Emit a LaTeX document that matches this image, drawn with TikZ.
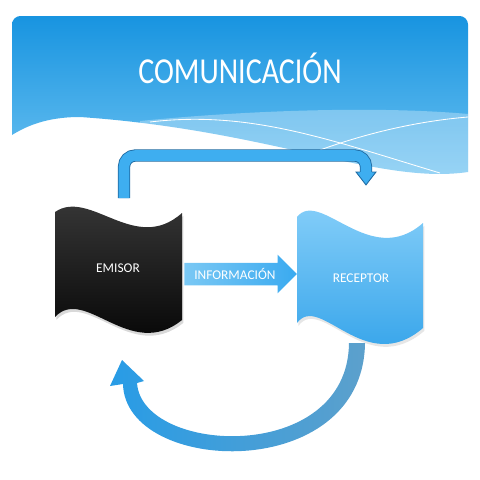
\documentclass[tikz,border=0pt]{standalone}
\usepackage{fontspec}
\setmainfont{Carlito}
\newfontfamily\titlefont[FakeStretch=0.82]{Carlito}
\usetikzlibrary{shapes.arrows,shadows}

\definecolor{bannertop}{RGB}{24,148,224}
\definecolor{bannerbot}{RGB}{112,196,242}
\definecolor{arrowblue}{RGB}{62,174,240}
\definecolor{arrowline}{RGB}{28,104,160}
\definecolor{recepttop}{RGB}{140,210,250}
\definecolor{receptbot}{RGB}{42,158,232}
\definecolor{emisortop}{RGB}{58,58,58}
\definecolor{infoleft}{RGB}{122,200,244}
\definecolor{inforight}{RGB}{58,170,240}
\definecolor{curvedark}{RGB}{92,160,204}
\definecolor{curvelight}{RGB}{40,156,230}

\begin{document}
\begin{tikzpicture}[x=0.025cm, y=-0.025cm]
    \useasboundingbox (0,0) rectangle (480,480);

    % banner
    \shade[top color=bannertop, bottom color=bannerbot] (12,135) [rounded corners=6pt] -- (12,16) -- (468,16) [sharp corners] -- (468,172) .. controls (380,185) and (270,130) .. (80,117) .. controls (45,117) and (25,127) .. (12,135) -- cycle;
    \fill[white, opacity=0.3] (140,121) .. controls (250,110) and (380,106) .. (468,114) -- (468,185) -- (140,185) -- cycle;
    \draw[white, line width=0.6pt] (150,122) .. controls (250,110) and (330,140) .. (440,173);
    \draw[white, line width=0.6pt] (320,150) .. controls (370,132) and (420,121) .. (468,117);
    \node (title) [text=white, font=\titlefont\fontsize{26}{30}\selectfont] at (240,68) {COMUNICACIÓN};

    % feedback from receptor back to emisor
    \coordinate (back) at (357,343);
    \coordinate (backend) at (122,360);
    \shade[left color=curvelight, middle color=curvelight, right color=curvedark] ([xshift=5.7pt]back) .. controls (363,485) and (125,475) .. (123,384) -- (110,386) -- (backend) -- (144,381) -- (137,383) .. controls (142,455) and (348,465) .. ([xshift=-5.7pt]back) -- cycle;

    % top connector
    \coordinate (up) at (124,198);
    \coordinate (down) at (366,172);
    \draw[draw=arrowline, line width=0.6pt, double=arrowblue, double distance=7.5pt, rounded corners=8pt] (up) -- (124,155.5) -- (366,155.5) -- (down);
    \filldraw[fill=arrowblue, draw=arrowline, line width=0.6pt] ([xshift=-4.3pt]down) -- ([xshift=-7.1pt]down) -- ([yshift=-9.2pt]down) -- ([xshift=7.1pt]down) -- ([xshift=4.3pt]down);

    % shapes
    \shade[top color=emisortop, bottom color=black, drop shadow={opacity=0.3, shadow xshift=1pt, shadow yshift=-2pt}] (55,212) .. controls (90,188) and (135,255) .. (182,213) -- (182,320) .. controls (130,362) and (85,285) .. (55,317) -- cycle;
    \shade[top color=recepttop, bottom color=receptbot, drop shadow={opacity=0.2, shadow xshift=1pt, shadow yshift=-2pt}] (297,217) .. controls (320,188) and (370,270) .. (423,223) -- (423,328) .. controls (365,378) and (320,292) .. (297,323) -- cycle;

    \node (emisor) [text=white, font=\fontsize{9.5}{11}\selectfont] at (118,268) {EMISOR};
    \node (receptor) [text=white, font=\fontsize{9.5}{11}\selectfont] at (361,278) {RECEPTOR};

    \node (info) [single arrow, single arrow head extend=5.7pt, minimum height=80pt, inner xsep=2pt, inner ysep=3.8pt, left color=infoleft, right color=inforight, text=white, font=\fontsize{9.5}{11}\selectfont, anchor=tail] at (184,274) {INFORMACIÓN};
\end{tikzpicture}
\end{document}
